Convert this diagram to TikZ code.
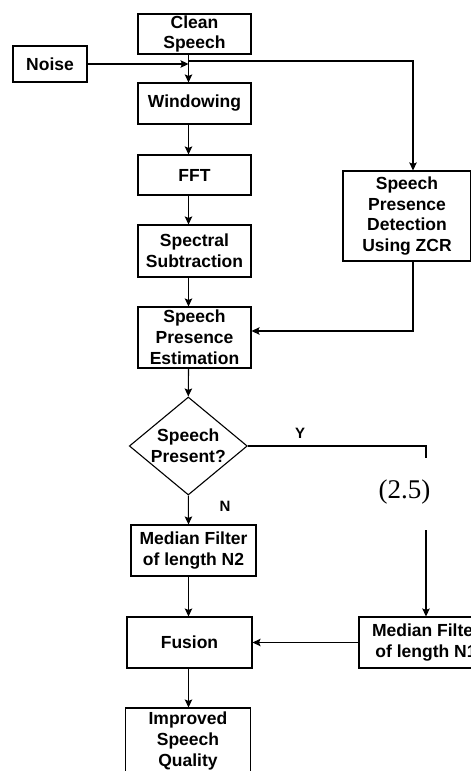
\documentclass[tikz,border=0pt]{standalone}
\usepackage{fontspec}
\setmainfont{Liberation Sans}
\newfontfamily\eqfont{Liberation Serif}
\usetikzlibrary{arrows.meta,shapes.geometric}
\tikzset{
  box/.style  ={draw,line width=1.1pt,align=center,inner sep=0pt,
                font=\fontsize{17.5}{20.8}\selectfont\bfseries},
  query/.style={box,diamond,aspect=1.2},
  flow/.style ={-{Stealth[length=8pt,width=7.5pt,inset=1.5pt]},line width=1.1pt},
  wire/.style ={line width=1.1pt},
  lbl/.style  ={font=\fontsize{15}{17}\selectfont\bfseries,inner sep=1pt},
}

\begin{document}
\begin{tikzpicture}[x=1pt,y=-1pt]
  \useasboundingbox (0,0) rectangle (471,771);
  \clip (0,0) rectangle (471,771);

  % main chain
  \node[box,minimum width=113pt,minimum height=40pt] (clean)   at (194.5,34)    {Clean\\Speech};
  \node[box,minimum width=74pt, minimum height=36pt] (noise)   at (50,64)       {Noise};
  \node[box,minimum width=113pt,minimum height=41pt] (win)     at (194.5,103.5) {Windowing};
  \node[box,minimum width=113pt,minimum height=40pt] (fft)     at (194.5,175)   {FFT};
  \node[box,minimum width=113pt,minimum height=52pt] (specsub) at (194.5,251)   {Spectral\\Subtraction};
  \node[box,minimum width=113pt,minimum height=61pt] (spest)   at (194.5,337.5) {Speech\\Presence\\Estimation};
  \node[box,minimum width=128pt,minimum height=90pt] (zcr)     at (407,216)     {Speech\\Presence\\Detection\\Using ZCR};
  \node[query,minimum width=118pt,minimum height=98pt] (present) at (188.3,446) {Speech\\Present?};
  \node[box,minimum width=125pt,minimum height=51pt] (medtwo)  at (193.5,550.5) {Median Filter\\of length N2};
  \node[box,minimum width=125pt,minimum height=51pt] (fusion)  at (189.5,642.5) {Fusion};
  \node[box,minimum width=134pt,minimum height=51pt] (medone)  at (426,642.5)   {Median Filter\\of length N1};
  \node[box,minimum width=125pt,minimum height=66pt] (improved) at (188,741)    {Improved\\Speech\\Quality};

  % bends
  \coordinate (spine) at (188.5,0);
  \coordinate (split) at (188.5,61);
  \coordinate (tap)   at (413,61);
  \coordinate (back)  at (413,331);
  \coordinate (ycorner) at (426,446);
  \coordinate (ystop)   at (426,458);
  \coordinate (yresume) at (426,530);

  % connectors
  \draw[wire] (clean.south -| split) -- (split);
  \draw[flow] (split) -- (win.north -| split);
  \draw[flow] (noise.east) -- (noise.east -| split);
  \draw[flow] (split) -- (tap) -- (zcr.north -| tap);
  \draw[flow] (zcr.south -| back) -- (back) -- (spest.east |- back);
  \draw[flow] (win.south -| spine) -- (fft.north -| spine);
  \draw[flow] (fft.south -| spine) -- (specsub.north -| spine);
  \draw[flow] (specsub.south -| spine) -- (spest.north -| spine);
  \draw[flow] (spest.south -| spine) -- (present.north);
  \draw[flow] (present.south) -- (medtwo.north -| spine);
  \draw[wire] (present.east) -- (ycorner) -- (ystop);
  \draw[flow] (yresume) -- (medone.north);
  \draw[flow] (medtwo.south -| spine) -- (fusion.north -| spine);
  \draw[flow] (medone.west) -- (fusion.east);
  \draw[flow] (fusion.south -| spine) -- (improved.north -| spine);

  % labels
  \node[lbl] (ylbl) at (300,433) {Y};
  \node[lbl] (nlbl) at (225,506.7) {N};
  \node[font=\eqfont\fontsize{27}{27}\selectfont,inner sep=0pt] (eqno) at (404.5,492) {(2.5)};
\end{tikzpicture}
\end{document}
